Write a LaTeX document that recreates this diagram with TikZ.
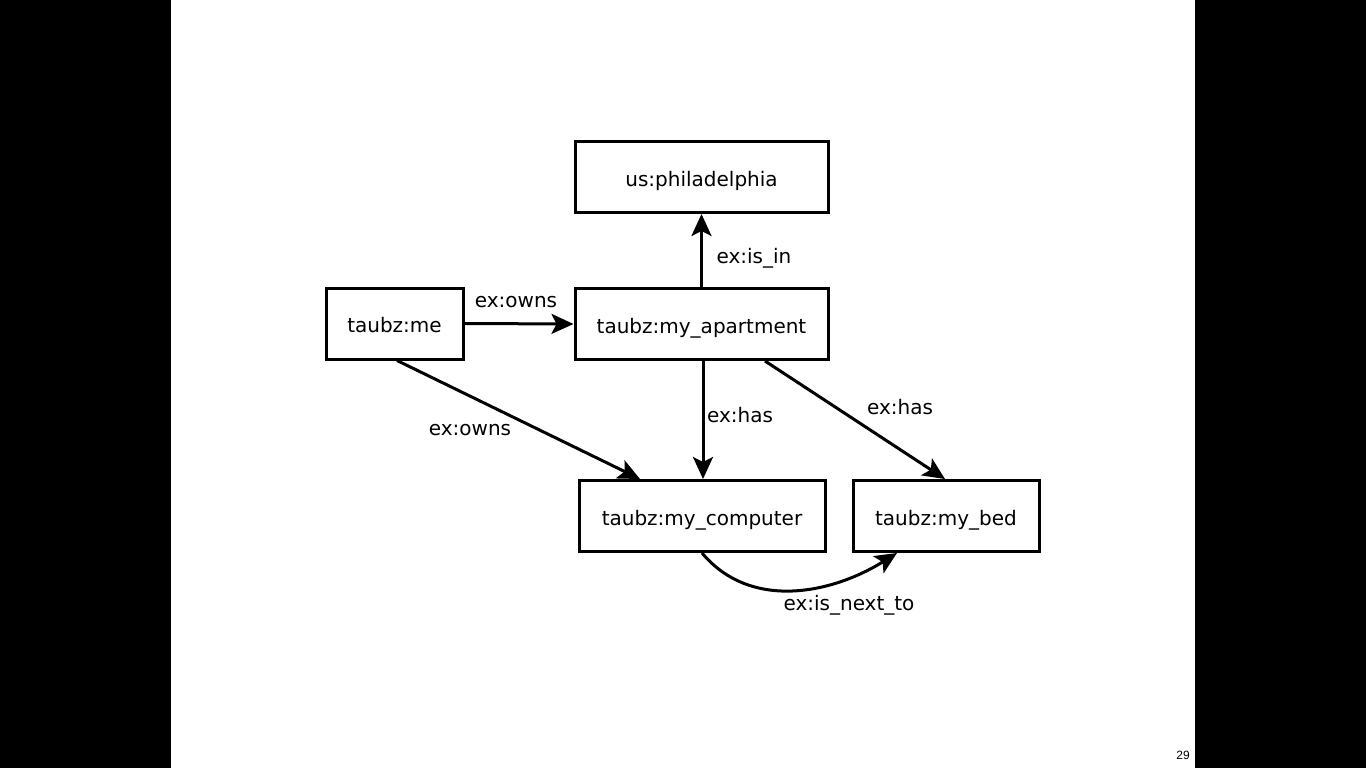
\documentclass[tikz,border=0pt]{standalone}
\usepackage{fontspec}
\setmainfont{DejaVu Sans}
\newfontfamily\pagefont{Liberation Sans}
\usetikzlibrary{arrows.meta}
\tikzset{
  res/.style={draw=black, line width=3pt, fill=white, minimum height=71pt, inner sep=0pt, text height=18pt, text depth=0pt, font=\fontsize{20}{23}\selectfont},
  rel/.style={line width=3pt, -{Stealth[length=22pt,width=20pt,inset=5pt]}},
  lbl/.style={font=\fontsize{20}{23}\selectfont, inner sep=0pt}
}
\begin{document}
\begin{tikzpicture}[x=1pt,y=-1pt]
\useasboundingbox (0,0) rectangle (1366,768);
\fill[black] (0,0) rectangle (1366,768);
\fill[white] (171,0) rectangle (1195,768);

\node[res, minimum width=253pt] (phil) at (701.5,177) {us:philadelphia};
\node[res, minimum width=137pt] (me) at (394.5,323.5) {taubz:me};
\node[res, minimum width=253pt] (apt) at (701.5,324) {taubz:my\_apartment};
\node[res, minimum width=246pt] (comp) at (702,516) {taubz:my\_computer};
\node[res, minimum width=186pt] (bed) at (946,516) {taubz:my\_bed};

\draw[rel] (me.east) -- (apt.west);
\draw[rel] (apt.north) -- (phil.south);
\draw[rel] ([xshift=1.5pt]apt.south) -- ([xshift=1pt]comp.north);
\draw[rel] ([xshift=63.5pt]apt.south) -- ([xshift=-1pt]bed.north);
\draw[rel] ([xshift=2.5pt]me.south) -- ([xshift=-62pt]comp.north);
\draw[rel] (comp.south) to[out=-50,in=-148] ([xshift=-49pt]bed.south);

\node[lbl] (l1) at (516,302) {ex:owns};
\node[lbl] (l2) at (754,258) {ex:is\_in};
\node[lbl] (l3) at (740,415) {ex:has};
\node[lbl] (l4) at (900,407) {ex:has};
\node[lbl] (l5) at (470,430) {ex:owns};
\node[lbl] (l6) at (849,605) {ex:is\_next\_to};

\node[font=\pagefont\fontsize{12}{14}\selectfont, inner sep=0pt] (pg) at (1183,755) {29};
\end{tikzpicture}
\end{document}
